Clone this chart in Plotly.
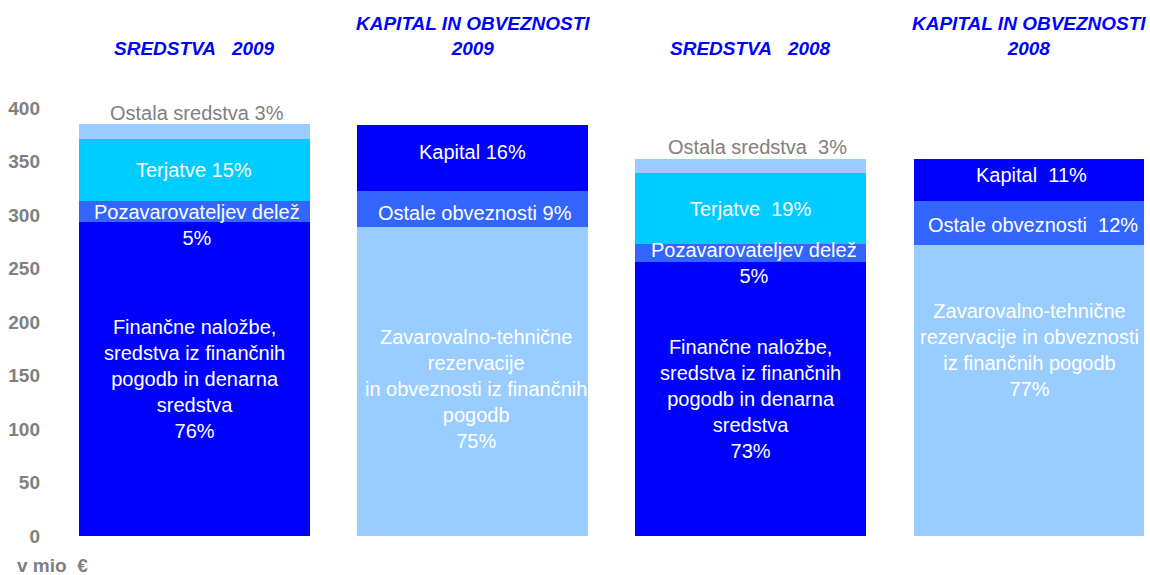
import plotly.graph_objects as go

# ---- data (mio EUR) ----
bar_titles = ["SREDSTVA\u00a0\u00a0\u00a02009", "KAPITAL IN OBVEZNOSTI<br>2009",
              "SREDSTVA\u00a0\u00a0\u00a02008", "KAPITAL IN OBVEZNOSTI<br>2008"]
asset_x = [0, 2]
liab_x = [1, 3]

fin_nalozbe = [293.5, 256]      # Finančne naložbe ...
pozav_delez = [19.5, 17]        # Pozavarovateljev delež
terjatve = [58, 66]             # Terjatve
ostala_sredstva = [14, 13]      # Ostala sredstva

zavar_rez = [289, 272]          # Zavarovalno-tehnične rezervacije ...
ostale_obv = [33, 41]           # Ostale obveznosti
kapital = [62, 39]              # Kapital

y_ticks = [0, 50, 100, 150, 200, 250, 300, 350, 400]

DARK = "#0000FF"
MED = "#3366FF"
CYAN = "#00CCFF"
LIGHT = "#99CCFF"
GREY = "#808080"
FONT = "Liberation Sans, Arial, sans-serif"
LBL = 20

fig = go.Figure()
W = 0.83
for name, xs, vals, col in [
    ("Finančne naložbe", asset_x, fin_nalozbe, DARK),
    ("Pozavarovateljev delež", asset_x, pozav_delez, MED),
    ("Terjatve", asset_x, terjatve, CYAN),
    ("Ostala sredstva", asset_x, ostala_sredstva, LIGHT),
    ("Zavarovalno-tehnične rezervacije", liab_x, zavar_rez, LIGHT),
    ("Ostale obveznosti", liab_x, ostale_obv, MED),
    ("Kapital", liab_x, kapital, DARK),
]:
    fig.add_trace(go.Bar(x=xs, y=vals, name=name, width=W, marker_color=col,
                         marker_line_width=0, hoverinfo="x+y+name"))

ann = []
def seg_label(x, lo, hi, text, color="white", yshift=0, xshift=0, anchor="middle"):
    ann.append(dict(x=x, y=(lo + hi) / 2, xref="x", yref="y", text=text, showarrow=False,
                    font=dict(family=FONT, size=LBL, color=color), yshift=yshift, xshift=xshift,
                    align="center", yanchor=anchor))

# assets bars
for i, x in enumerate(asset_x):
    c1 = fin_nalozbe[i]
    c2 = c1 + pozav_delez[i]
    c3 = c2 + terjatve[i]
    c4 = c3 + ostala_sredstva[i]
    tot = c4
    pct = lambda v: round(v / tot * 100)
    fin_txt = ("Finančne naložbe,<br>sredstva iz finančnih<br>pogodb in denarna<br>sredstva<br>%d%%" % pct(fin_nalozbe[i]))
    seg_label(x, 0, c1, fin_txt, yshift=0)
    seg_label(x, c1, c2, "Pozavarovateljev delež<br>%d%%" % pct(pozav_delez[i]),
              yshift=-13 if i == 0 else -10.5, xshift=3)
    sep = " " if i == 0 else "\u00a0\u00a0"
    seg_label(x, c2, c3, "Terjatve%s%d%%" % (sep, pct(terjatve[i])))
    seg_label(x, c4, c4, "Ostala sredstva%s3%%" % sep, color=GREY,
              yshift=11 if i == 0 else 12, xshift=3 if i == 0 else 7)

# liabilities bars
for i, x in enumerate(liab_x):
    c1 = zavar_rez[i]
    c2 = c1 + ostale_obv[i]
    c3 = c2 + kapital[i]
    tot = c3
    pct = lambda v: round(v / tot * 100)
    sep = " " if i == 0 else "\u00a0\u00a0"
    if i == 0:
        zt = ("Zavarovalno-tehnične<br>rezervacije<br>in obveznosti iz finančnih<br>pogodb<br>%d%%" % pct(zavar_rez[i]))
        seg_label(x, 0, c1, zt, yshift=-8, xshift=3)
    else:
        zt = ("Zavarovalno-tehnične<br>rezervacije in obveznosti<br>iz finančnih pogodb<br>%d%%" % pct(zavar_rez[i]))
        seg_label(x, 0, c1, zt, yshift=40)
    seg_label(x, c1, c2, "Ostale obveznosti%s%d%%" % (sep, pct(ostale_obv[i])),
              yshift=-4 if i == 0 else -2, xshift=2 if i == 0 else 4)
    seg_label(x, c2, c3, "Kapital%s%d%%" % (sep, pct(kapital[i])),
              yshift=6 if i == 0 else 5, xshift=0 if i == 0 else 2)

# column titles
for x, t in zip([0, 1, 2, 3], bar_titles):
    ann.append(dict(x=x, y=1.140, xref="x", yref="paper", text="<b><i>%s</i></b>" % t,
                    showarrow=False, yanchor="middle", align="center",
                    font=dict(family=FONT, size=19, color="#0000FF")))
    if "<br>" in t:
        ann[-1]["yshift"] = 12.5

# unit label
ann.append(dict(x=-0.0413, y=-0.0678, xref="paper", yref="paper", text="<b>v mio\u00a0\u00a0€</b>",
                showarrow=False, xanchor="left", yanchor="middle",
                font=dict(family=FONT, size=19, color=GREY)))

fig.update_layout(
    width=1150, height=575,
    margin=dict(l=60, r=0, t=108, b=39),
    barmode="stack",
    bargap=0,
    showlegend=False,
    plot_bgcolor="white", paper_bgcolor="white",
    annotations=ann,
    xaxis=dict(range=[-0.4835, 3.435], showticklabels=False, showgrid=False,
               zeroline=False, showline=False, ticks=""),
    yaxis=dict(range=[0, 400], tickvals=y_ticks, showgrid=False, zeroline=False,
               showline=False, ticks="", ticklabelstandoff=19,
               tickfont=dict(family=FONT, size=19, color=GREY, weight="bold")),
)

fig.write_html("out.html", config={"displayModeBar": False},
               post_script="document.body.style.margin='0';document.body.style.overflow='hidden';")
